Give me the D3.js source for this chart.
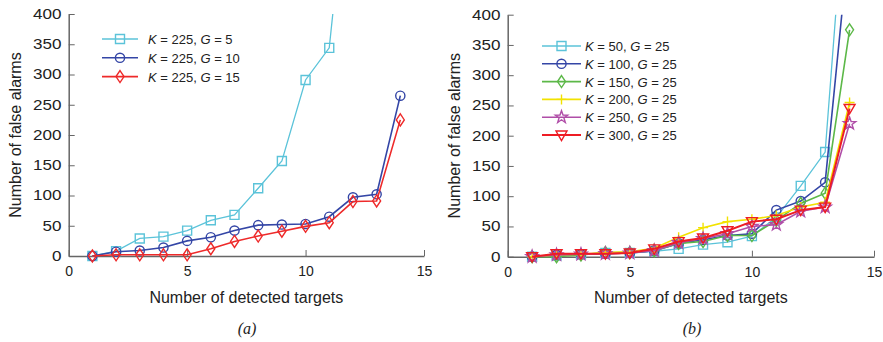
<!DOCTYPE html>
<html>
<head>
<meta charset="utf-8">
<script src="https://cdn.jsdelivr.net/npm/d3@7"></script>
<style>
  body { margin: 0; background: #fff; }
  svg text { font-family: "Liberation Sans", Arial, sans-serif; fill: #222; }
</style>
</head>
<body>
<svg id="chart" width="883" height="342"></svg>
<script>
// x values are shared by every series
const targets = [1, 2, 3, 4, 5, 6, 7, 8, 9, 10, 11, 12, 13, 14];

// panel (a): K = 225, varying G
const aG5  = [0, 8, 29, 32, 42, 59, 68, 112, 157, 291, 344, 720];
const aG10 = [0, 7, 9, 14, 25, 31, 42, 51, 52, 53, 65, 97, 102, 265];
const aG15 = [0, 2, 2, 2, 2, 12, 24, 33, 41, 49, 55, 90, 91, 225];

// panel (b): G = 25, varying K
const bK50  = [0, 2, 4, 6, 6, 9, 13, 20, 24, 34, 65, 117, 173, 700];
const bK100 = [0, 3, 4, 5, 6, 10, 22, 28, 35, 38, 77, 92, 123, 530];
const bK150 = [0, 0, 3, 7, 7, 10, 22, 25, 35, 35, 60, 88, 105, 375];
const bK200 = [0, 3, 4, 7, 8, 14, 32, 48, 58, 62, 68, 82, 90, 255];
const bK250 = [0, 3, 4, 5, 6, 10, 23, 30, 38, 50, 53, 75, 82, 220];
const bK300 = [0, 5, 5, 5, 6, 13, 25, 31, 43, 58, 62, 77, 82, 245];

const xTicks = [0, 5, 10, 15];
const yTicks = [0, 50, 100, 150, 200, 250, 300, 350, 400];

const seriesA = [
  { K: "225", G: "5",  values: aG5,  color: "#5bc3d9", marker: "square",  width: 1.3 },
  { K: "225", G: "10", values: aG10, color: "#3446a6", marker: "circle",  width: 1.6 },
  { K: "225", G: "15", values: aG15, color: "#ee2a2a", marker: "diamond", width: 1.6 }
];
const seriesB = [
  { K: "50",  G: "25", values: bK50,  color: "#5bc3d9", marker: "square",   width: 1.3 },
  { K: "100", G: "25", values: bK100, color: "#3446a6", marker: "circle",   width: 1.6 },
  { K: "150", G: "25", values: bK150, color: "#5cb848", marker: "diamond",  width: 1.6 },
  { K: "200", G: "25", values: bK200, color: "#f2e200", marker: "plus",     width: 1.6 },
  { K: "250", G: "25", values: bK250, color: "#b04ea8", marker: "star",     width: 1.6 },
  { K: "300", G: "25", values: bK300, color: "#ee1c24", marker: "triangle", width: 2 }
];

const svg = d3.select("#chart");

function markerPath(type) {
  switch (type) {
    case "square": return "M-4.5,-4.5H4.5V4.5H-4.5Z";
    case "circle": return d3.arc()({ innerRadius: 0, outerRadius: 4.6, startAngle: 0, endAngle: 2 * Math.PI });
    case "diamond": return "M0,-6L4,0L0,6L-4,0Z";
    case "plus": return "M-5,0H5M0,-5V5";
    case "triangle": return "M-5.5,-4L5.5,-4L0,5.5Z";
    case "star": {
      const pts = [];
      for (let i = 0; i < 10; i++) {
        const r = i % 2 === 0 ? 6.5 : 2.6;
        const a = -Math.PI / 2 + i * Math.PI / 5;
        pts.push([r * Math.cos(a), r * Math.sin(a)]);
      }
      return "M" + pts.join("L") + "Z";
    }
  }
}

function drawPanel(opts) {
  const { left, right, top, bottom, series, legend, caption, id } = opts;
  const x = d3.scaleLinear().domain([0, 15]).range([left, right]);
  const y = d3.scaleLinear().domain([0, 400]).range([bottom, top]);
  const g = svg.append("g");

  g.append("clipPath").attr("id", id)
    .append("rect").attr("x", left).attr("y", top - 8)
    .attr("width", right - left + 10).attr("height", bottom - top + 16);
  g.append("clipPath").attr("id", id + "l")
    .append("rect").attr("x", left).attr("y", top)
    .attr("width", right - left + 10).attr("height", bottom - top + 16);

  // axes (inward ticks, no box)
  const xAxis = g.append("g").attr("transform", `translate(0,${bottom})`)
    .call(d3.axisBottom(x).tickValues(xTicks).tickSizeInner(-6).tickSizeOuter(0).tickPadding(10));
  const yAxis = g.append("g").attr("transform", `translate(${left},0)`)
    .call(d3.axisLeft(y).tickValues(yTicks).tickSizeInner(-6).tickSizeOuter(0).tickPadding(6));
  [xAxis, yAxis].forEach(ax => {
    ax.select(".domain").attr("stroke", "#666").attr("stroke-width", 1.5);
    ax.selectAll(".tick line").attr("stroke", "#666");
    ax.selectAll("text").attr("fill", "#222")
      .style("font-family", "Liberation Sans, Arial, sans-serif");
  });
  xAxis.selectAll("text").style("font-size", "14px");
  // y tick labels are drawn a bit wide like the original
  yAxis.selectAll("text").style("font-size", "14px").attr("transform", "scale(1.22,1)");

  // lines and markers
  series.forEach(s => {
    const pts = s.values.map((v, i) => [targets[i], v]);
    const line = d3.line().x(d => x(d[0])).y(d => y(d[1]));
    g.append("path").datum(pts)
      .attr("clip-path", `url(#${id}l)`)
      .attr("d", line).attr("fill", "none")
      .attr("stroke", s.color).attr("stroke-width", s.width);
    g.append("g").attr("clip-path", `url(#${id})`)
      .selectAll("path").data(pts.filter(d => d[1] <= 400)).join("path")
      .attr("transform", d => `translate(${x(d[0])},${y(d[1])})`)
      .attr("d", markerPath(s.marker))
      .attr("fill", "none").attr("stroke", s.color).attr("stroke-width", 1.4);
  });

  // legend
  const lg = g.append("g");
  series.forEach((s, i) => {
    const ly = legend.y + i * legend.step;
    lg.append("line").attr("x1", legend.x).attr("x2", legend.x + legend.len)
      .attr("y1", ly).attr("y2", ly).attr("stroke", s.color).attr("stroke-width", s.width);
    lg.append("path").attr("transform", `translate(${legend.x + legend.len / 2},${ly})`)
      .attr("d", markerPath(s.marker)).attr("fill", "none")
      .attr("stroke", s.color).attr("stroke-width", 1.4);
    const t = lg.append("text").attr("x", legend.x + legend.textGap).attr("y", ly + 5)
      .style("font-size", "13px");
    t.append("tspan").style("font-style", "italic").text("K");
    t.append("tspan").text(` = ${s.K}, `);
    t.append("tspan").style("font-style", "italic").text("G");
    t.append("tspan").text(` = ${s.G}`);
  });

  // titles
  g.append("text").attr("x", (left + right) / 2).attr("y", 303)
    .attr("text-anchor", "middle").style("font-size", "16px")
    .text("Number of detected targets");
  g.append("text")
    .attr("transform", `translate(${left - 48},${(top + bottom) / 2}) rotate(-90)`)
    .attr("text-anchor", "middle").style("font-size", "16px")
    .text("Number of false alarms");
  g.append("text").attr("x", caption.x).attr("y", 334)
    .attr("text-anchor", "middle")
    .style("font-family", "Liberation Serif, Times New Roman, serif")
    .style("font-style", "italic").style("font-size", "16px")
    .text(caption.text);
}

drawPanel({
  id: "clipA", left: 68.7, right: 424, top: 14, bottom: 256, series: seriesA,
  legend: { x: 102, y: 39, step: 18.8, len: 36, textGap: 46 },
  caption: { x: 247, text: "(a)" }
});
drawPanel({
  id: "clipB", left: 507.7, right: 874, top: 14.7, bottom: 256.7, series: seriesB,
  legend: { x: 542, y: 46, step: 17.8, len: 39, textGap: 43 },
  caption: { x: 692, text: "(b)" }
});
</script>
</body>
</html>
